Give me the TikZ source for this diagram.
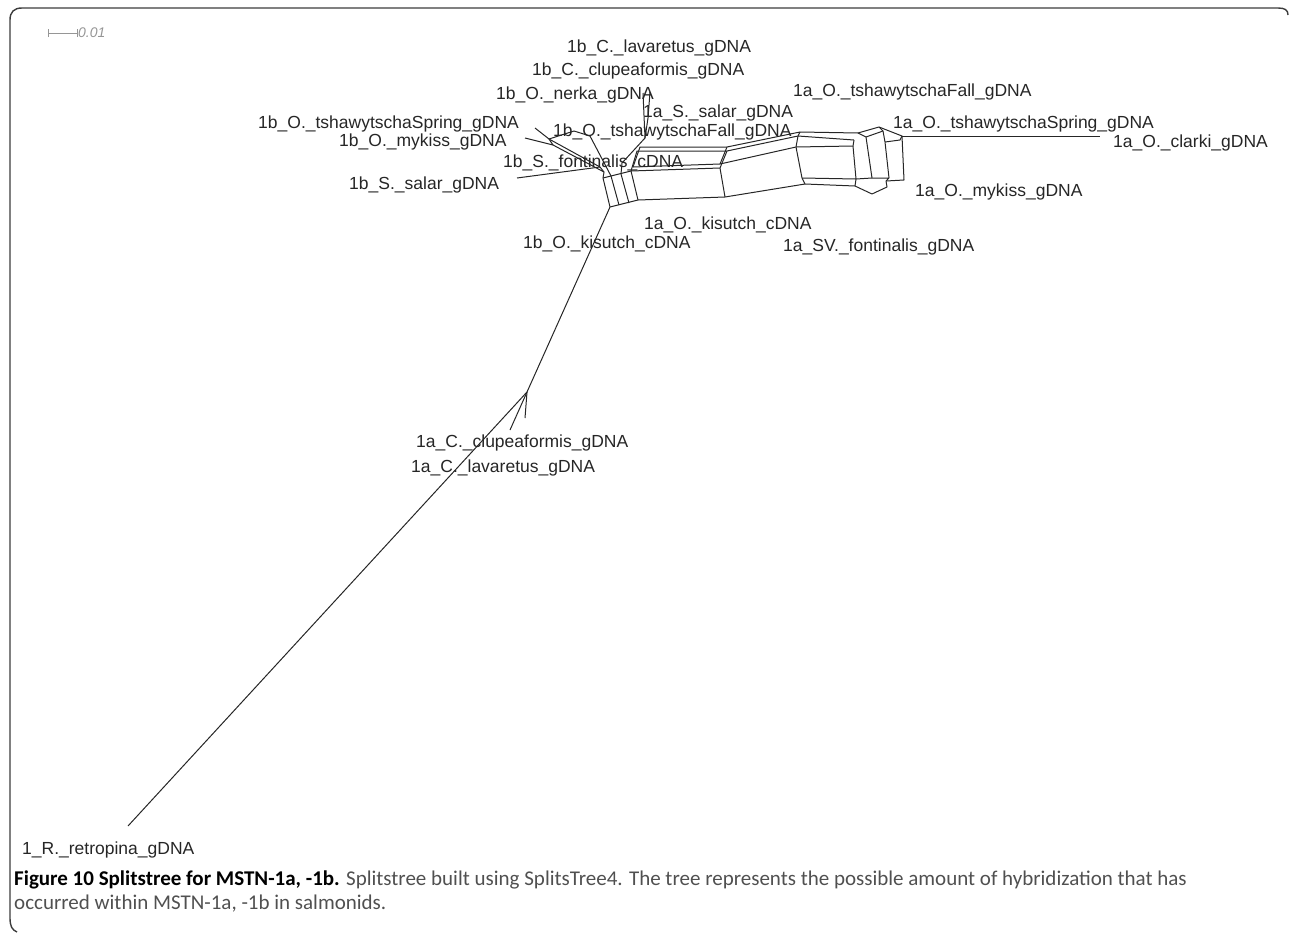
\documentclass[tikz,border=0pt]{standalone}
\usepackage{fontspec}
\setmainfont{Liberation Sans}
\newfontfamily\capfont{Carlito}
\usepackage{tikz}
\usetikzlibrary{positioning}
\definecolor{inkgrey}{RGB}{38,38,38}
\definecolor{framegrey}{RGB}{60,60,60}
\definecolor{capgrey}{RGB}{80,80,80}
\definecolor{scalegrey}{RGB}{150,150,150}

\begin{document}
\begin{tikzpicture}[
      x=1pt, y=-1pt,
      taxon/.style  = {anchor=base west, inner sep=0pt, text=inkgrey,
                       font=\fontsize{17.5}{20}\selectfont},
      split/.style  = {draw=inkgrey, line width=1pt, line join=round},
      frameline/.style = {draw=framegrey, line width=1.4pt},
      capline/.style = {anchor=base west, inner sep=0pt, text=capgrey,
                       font=\capfont\fontsize{21}{24}\selectfont},
    ]
    \useasboundingbox (0,0) rectangle (1290,932);

    % frame round the figure
    \draw[frameline] (1288,15) .. controls (1288,10) and (1285,8) .. (1278,8)
        -- (22,8) .. controls (14,8) and (10,12) .. (10,20) -- (10,918)
        .. controls (10,926) and (12,930) .. (17,932);

    % scale bar
    \coordinate (sb0) at (48,33);
    \coordinate (sb1) at (77,33);
    \draw[draw=scalegrey, line width=0.9pt] (sb0) -- (sb1);
    \draw[draw=scalegrey, line width=0.9pt] ([yshift=-4]sb0) -- ([yshift=4]sb0);
    \draw[draw=scalegrey, line width=0.9pt] ([yshift=-4]sb1) -- ([yshift=4]sb1);
    \node[right=1pt of sb1, inner sep=0pt, text=scalegrey,
          font=\fontsize{14}{15}\selectfont\itshape] (sblabel) {0.01};

    % main branch
    \coordinate (rR) at (128,826);
    \coordinate (rC) at (527,392);
    \coordinate (cC) at (510,430);
    \coordinate (cL) at (525,418);

    % left box
    \coordinate (l0b) at (610,207); \coordinate (l1b) at (619,205);
    \coordinate (l2b) at (629,203); \coordinate (l3b) at (638,200);
    \coordinate (l0t) at (603,178); \coordinate (l1t) at (611,176);
    \coordinate (l2t) at (621,174); \coordinate (l3t) at (631,171);

    % 1b cluster
    \coordinate (sS) at (517,178);  \coordinate (tS) at (535,128);
    \coordinate (mK) at (525,138);
    \coordinate (d1) at (549,139);  \coordinate (d2) at (553,145);
    \coordinate (g1) at (600,167);  \coordinate (g2) at (604,172);
    \coordinate (e1) at (574,131);  \coordinate (e2) at (590,136);
    \coordinate (u1) at (622,163);  \coordinate (u2) at (645,138);
    \coordinate (u3) at (643,93);
    \coordinate (w1) at (648,118);  \coordinate (w2) at (650,92);

    % long boxes
    \coordinate (m1) at (633,167);
    \coordinate (t1) at (637,151);  \coordinate (t0) at (640,147);
    \coordinate (b2t0) at (727,147); \coordinate (b2t1) at (727,151);
    \coordinate (b2m0) at (720,164); \coordinate (b2m1) at (720,168);
    \coordinate (b2b) at (725,197);
    \coordinate (q0) at (800,132);  \coordinate (q1) at (798,136);
    \coordinate (q2) at (796,147);  \coordinate (q3) at (802,178);
    \coordinate (q4) at (805,184);
    \coordinate (r0) at (858,133);  \coordinate (r1) at (854,140);
    \coordinate (r2) at (853,146);  \coordinate (r3) at (856,179);
    \coordinate (r4) at (855,186);

    % right cluster
    \coordinate (h2) at (879,127);  \coordinate (h3) at (902,136);
    \coordinate (h4) at (904,180);  \coordinate (h5) at (886,181);
    \coordinate (k1) at (866,137);  \coordinate (k2) at (883,131);
    \coordinate (k3) at (872,178);  \coordinate (k4) at (889,178);
    \coordinate (k5) at (885,142);  \coordinate (k6) at (900,140);
    \coordinate (bq1) at (872,194); \coordinate (bq2) at (887,187);
    \coordinate (oC) at (1100,136);

    % edges
    \draw[split] (rR) -- (rC) -- (l0b);
    \draw[split] (rC) -- (cC);
    \draw[split] (rC) -- (cL);
    \draw[split] (l0b) -- (l3b);
    \draw[split] (l0t) -- (l3t);
    \draw[split] (l0b) -- (l0t);
    \draw[split] (l1b) -- (l1t);
    \draw[split] (l2b) -- (l2t);
    \draw[split] (l3b) -- (l3t);

    \draw[split] (sS) -- (g1) -- (g2) -- (l0t);
    \draw[split] (tS) -- (d1) -- (g1);
    \draw[split] (mK) -- (d2) -- (g2);
    \draw[split] (d1) -- (d2);
    \draw[split] (d1) -- (e1) -- (e2) -- (l1t);
    \draw[split] (l2t) -- (u1) -- (u2) -- (u3);
    \draw[split] (u2) -- (w1) -- (w2);

    \draw[split] (l3t) -- (t1) -- (b2t1);
    \draw[split] (m1) -- (t0) -- (b2t0);
    \draw[split] (m1) -- (b2m0);
    \draw[split] (l3t) -- (b2m1);
    \draw[split] (l3b) -- (b2b);
    \draw[split] (b2t0) -- (b2m0);
    \draw[split] (b2t1) -- (b2m1) -- (b2b);

    \draw[split] (b2t0) -- (q0);
    \draw[split] (b2t1) -- (q1);
    \draw[split] (b2m0) -- (q2);
    \draw[split] (b2b) -- (q4);
    \draw[split] (q0) -- (q1) -- (q2) -- (q3) -- (q4);
    \draw[split] (q0) -- (r0);
    \draw[split] (q1) -- (r1);
    \draw[split] (q2) -- (r2);
    \draw[split] (q3) -- (r3);
    \draw[split] (q4) -- (r4);

    \draw[split] (r0) -- (h2) -- (h3) -- (h4) -- (h5);
    \draw[split] (r1) -- (r2) -- (r3) -- (r4);
    \draw[split] (r0) -- (k1) -- (k3);
    \draw[split] (k1) -- (k2) -- (h2);
    \draw[split] (k2) -- (k5) -- (k4);
    \draw[split] (k5) -- (k6) -- (h3);
    \draw[split] (r3) -- (k3) -- (k4) -- (h5);
    \draw[split] (r4) -- (bq1) -- (bq2) -- (h5);
    \draw[split] (h3) -- (oC);

    % taxa
    \node[taxon] (tx1)  at (567,52)  {1b\_C.\_lavaretus\_gDNA};
    \node[taxon] (tx2)  at (532,75)  {1b\_C.\_clupeaformis\_gDNA};
    \node[taxon] (tx3)  at (496,99)  {1b\_O.\_nerka\_gDNA};
    \node[taxon] (tx4)  at (643,117) {1a\_S.\_salar\_gDNA};
    \node[taxon] (tx5)  at (793,96)  {1a\_O.\_tshawytschaFall\_gDNA};
    \node[taxon] (tx6)  at (258,128) {1b\_O.\_tshawytschaSpring\_gDNA};
    \node[taxon] (tx7)  at (553,136) {1b\_O.\_tshawytschaFall\_gDNA};
    \node[taxon] (tx8)  at (893,128) {1a\_O.\_tshawytschaSpring\_gDNA};
    \node[taxon] (tx9)  at (1113,147) {1a\_O.\_clarki\_gDNA};
    \node[taxon] (tx10) at (339,146) {1b\_O.\_mykiss\_gDNA};
    \node[taxon] (tx11) at (503,167) {1b\_S.\_fontinalis\_cDNA};
    \node[taxon] (tx12) at (349,189) {1b\_S.\_salar\_gDNA};
    \node[taxon] (tx13) at (915,196) {1a\_O.\_mykiss\_gDNA};
    \node[taxon] (tx14) at (644,229) {1a\_O.\_kisutch\_cDNA};
    \node[taxon] (tx15) at (523,248) {1b\_O.\_kisutch\_cDNA};
    \node[taxon] (tx16) at (783,251) {1a\_SV.\_fontinalis\_gDNA};
    \node[taxon] (tx17) at (416,447) {1a\_C.\_clupeaformis\_gDNA};
    \node[taxon] (tx18) at (411,472) {1a\_C.\_lavaretus\_gDNA};
    \node[taxon] (tx19) at (22,854)  {1\_R.\_retropina\_gDNA};

    % caption
    \node[capline] (caption) at (14,885)
      {{\color{black}\bfseries Figure 10 Splitstree for MSTN-1a, -1b.} Splitstree built using SplitsTree4. The tree represents the possible amount of hybridization that has};
    \node[capline] (caption2) at (14,909) {occurred within MSTN-1a, -1b in salmonids.};
  \end{tikzpicture}
\end{document}
